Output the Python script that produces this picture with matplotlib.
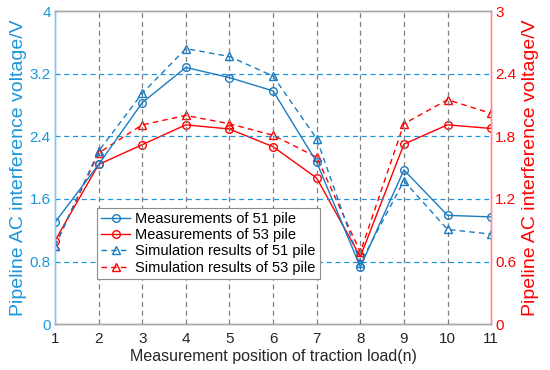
import numpy as np
import matplotlib
matplotlib.use("Agg")
import matplotlib.pyplot as plt

plt.rcParams["font.family"] = ["Liberation Sans", "DejaVu Sans"]

# ── Data ──────────────────────────────────────────────────────────────────────
positions = [1, 2, 3, 4, 5, 6, 7, 8, 9, 10, 11]
meas_51 = [1.30, 2.04, 2.83, 3.28, 3.15, 2.98, 2.07, 0.73, 1.97, 1.39, 1.37]      # left axis
sim_51 = [1.00, 2.21, 2.95, 3.52, 3.42, 3.17, 2.37, 0.78, 1.83, 1.21, 1.15]       # left axis
meas_53 = [0.80, 1.53, 1.72, 1.91, 1.87, 1.70, 1.40, 0.645, 1.725, 1.91, 1.875]   # right axis
sim_53 = [0.75, 1.64, 1.91, 2.00, 1.92, 1.81, 1.60, 0.69, 1.92, 2.15, 2.02]       # right axis

left_ticks = [0, 0.8, 1.6, 2.4, 3.2, 4]
right_ticks = [0, 0.6, 1.2, 1.8, 2.4, 3]

BLUE = "#1a7cc2"
AXBLUE = "#1a96dc"
RED = "#ff0000"

fig = plt.figure(figsize=(5.5, 3.7), dpi=100)
ax = fig.add_axes([0.1, 0.124, 0.793, 0.846])
ax2 = ax.twinx()

# grid: vertical gray, horizontal in left-axis colour
for xv in positions[1:-1]:
    ax.axvline(xv, color="#7f7f7f", lw=0.9, ls=(0, (4, 3)), zorder=0)
for yv in left_ticks[1:-1]:
    ax.axhline(yv, color=AXBLUE, lw=0.9, ls=(0, (4, 3)), zorder=0)

l1, = ax.plot(positions, meas_51, color=BLUE, lw=1.0, marker="o", ms=5.5,
              mfc="none", mec=BLUE, mew=1.0, label="Measurements of 51 pile")
l3, = ax.plot(positions, sim_51, color=BLUE, lw=1.0, ls=(0, (4, 3)), marker="^",
              ms=5.5, mfc="none", mec=BLUE, mew=1.0, label="Simulation results of 51 pile")
l2, = ax2.plot(positions, meas_53, color=RED, lw=1.0, marker="o", ms=5.5,
               mfc="none", mec=RED, mew=1.0, label="Measurements of 53 pile")
l4, = ax2.plot(positions, sim_53, color=RED, lw=1.0, ls=(0, (4, 3)), marker="^",
               ms=5.5, mfc="none", mec=RED, mew=1.0, label="Simulation results of 53 pile")

ax.set_xlim(1, 11)
ax.set_ylim(0, 4)
ax2.set_ylim(0, 3)
ax.set_xticks(positions)
ax.set_yticks(left_ticks)
ax.set_yticklabels([f"{v:g}" for v in left_ticks])
ax2.set_yticks(right_ticks)
ax2.set_yticklabels([f"{v:g}" for v in right_ticks])

ax.tick_params(axis="x", colors="#262626", labelsize=11, length=0, pad=6)
ax.tick_params(axis="y", colors=AXBLUE, labelsize=11, length=0, pad=3)
ax2.tick_params(axis="y", colors=RED, labelsize=11, length=0, pad=3)

for a in (ax, ax2):
    a.spines["top"].set_color("#a6a6a6")
    a.spines["bottom"].set_color("#a6a6a6")
    a.spines["left"].set_color("#7fc4ee")
    a.spines["right"].set_color("#ff8c8c")
    for s in a.spines.values():
        s.set_linewidth(1.0)

ax.set_xlabel("Measurement position of traction load(n)", fontsize=11.5,
              color="#262626", labelpad=2)
ax.set_ylabel("Pipeline AC interference voltage/V", fontsize=14,
              color=AXBLUE, labelpad=2)
ax2.set_ylabel("Pipeline AC interference voltage/V", fontsize=14,
               color=RED, labelpad=4)

leg = ax.legend(handles=[l1, l2, l3, l4], loc="lower left",
                bbox_to_anchor=(0.096, 0.144), fontsize=10.5, frameon=True,
                fancybox=False, edgecolor="#8c8c8c", framealpha=1,
                handlelength=2.0, handletextpad=0.3, borderpad=0.3,
                labelspacing=0.15, borderaxespad=0)
leg.get_frame().set_linewidth(0.8)
leg.set_zorder(10)
ax.set_zorder(ax2.get_zorder() + 1)
ax.patch.set_visible(False)

fig.savefig("out.png", dpi=100)
